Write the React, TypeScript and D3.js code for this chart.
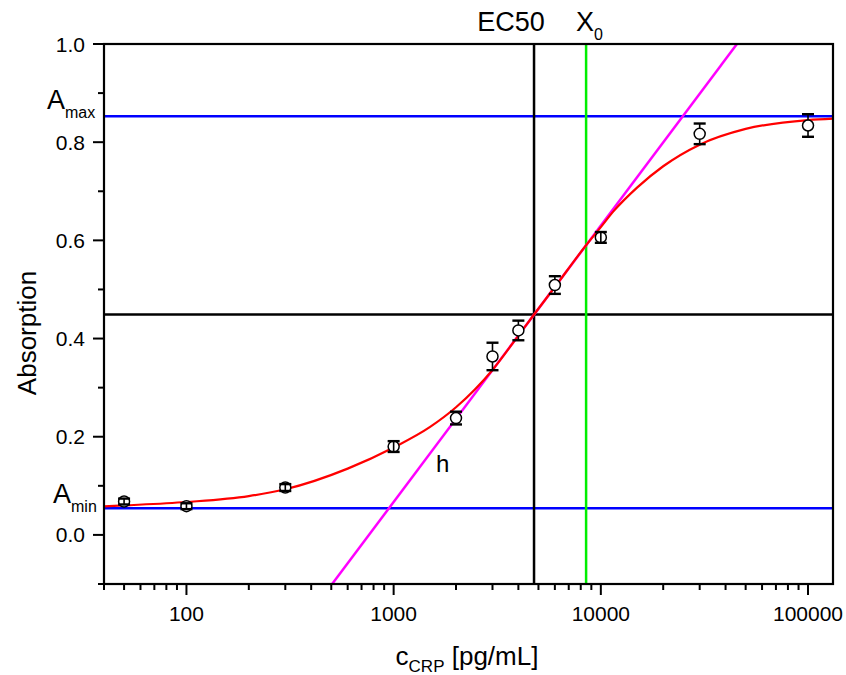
import React, { useEffect, useRef } from 'react';
import * as d3 from 'd3';

// measured points (concentration in pg/mL, absorption, error)
const conc = [50, 100, 300, 1000, 2000, 3000, 4000, 6000, 10000, 30000, 100000];
const absorb = [0.068, 0.0585, 0.0965, 0.180, 0.238, 0.3635, 0.4165, 0.509, 0.606, 0.817, 0.834];
const errs = [0.006, 0.006, 0.007, 0.011, 0.013, 0.028, 0.02, 0.018, 0.011, 0.021, 0.023];

// fitted curve
const fitX = [40, 50, 100, 200, 300, 600, 1000, 1500, 2000, 3000, 4000, 4760, 6000, 8490, 10000, 11500, 15000, 20000, 30000, 50000, 100000, 132000];
const fitY = [0.058, 0.060, 0.067, 0.079, 0.093, 0.135, 0.178, 0.220, 0.260, 0.336, 0.406, 0.449, 0.505, 0.590, 0.627, 0.659, 0.708, 0.751, 0.795, 0.827, 0.845, 0.848];

// reference lines
const aMax = 0.853;
const aMin = 0.0545;
const midY = 0.449;
const ec50 = 4760;
const x0 = 8490;
const slopeX = [505, 45400];
const slopeY = [-0.1, 1.0];

const xMajor = [100, 1000, 10000, 100000];
const yMajor = [0.0, 0.2, 0.4, 0.6, 0.8, 1.0];
const yMinor = [-0.1, 0.1, 0.3, 0.5, 0.7, 0.9];

const FONT = '"Liberation Sans", Arial, sans-serif';

export default function App() {
  const ref = useRef<SVGSVGElement>(null);

  useEffect(() => {
    const width = 846, height = 675;
    const margin = { top: 44, right: 13, bottom: 91, left: 104 };
    const svg = d3.select(ref.current);
    svg.selectAll('*').remove();

    const x = d3.scaleLog().domain([40, 132000]).range([margin.left, width - margin.right]);
    const y = d3.scaleLinear().domain([-0.1, 1.0]).range([height - margin.bottom, margin.top]);
    const [x1, x2] = x.range();
    const [y1, y2] = y.range();

    svg.append('defs').append('clipPath').attr('id', 'plotclip')
      .append('rect').attr('x', x1).attr('y', y2).attr('width', x2 - x1).attr('height', y1 - y2);

    const plot = svg.append('g').attr('clip-path', 'url(#plotclip)');

    // horizontal + vertical guides
    const hline = (v: number, col: string) => plot.append('line')
      .attr('x1', x1).attr('x2', x2).attr('y1', y(v)).attr('y2', y(v))
      .attr('stroke', col).attr('stroke-width', 2.5);
    const vline = (v: number, col: string) => plot.append('line')
      .attr('x1', x(v)).attr('x2', x(v)).attr('y1', y1).attr('y2', y2)
      .attr('stroke', col).attr('stroke-width', 2.5);
    hline(aMax, '#0000ff');
    hline(aMin, '#0000ff');
    hline(midY, '#000');
    vline(ec50, '#000');
    vline(x0, '#00ee00');

    // slope line
    plot.append('path')
      .datum(slopeX.map((d, i) => [d, slopeY[i]]))
      .attr('fill', 'none').attr('stroke', '#ff00ff').attr('stroke-width', 2.5)
      .attr('d', d3.line<number[]>().x(d => x(d[0])).y(d => y(d[1])));

    // fit curve
    plot.append('path')
      .datum(fitX.map((d, i) => [d, fitY[i]]))
      .attr('fill', 'none').attr('stroke', '#ff0000').attr('stroke-width', 2.2)
      .attr('d', d3.line<number[]>().x(d => x(d[0])).y(d => y(d[1])).curve(d3.curveMonotoneX));

    // points with error bars
    const r = 5.5;
    conc.forEach((c, i) => {
      const cx = x(c), cy = y(absorb[i]);
      const top = y(absorb[i] + errs[i]), bot = y(absorb[i] - errs[i]);
      const g = svg.append('g');
      g.append('circle').attr('cx', cx).attr('cy', cy).attr('r', r)
        .attr('fill', '#fff').attr('stroke', '#000').attr('stroke-width', 1.5);
      if (cy - top > r) {
        g.append('line').attr('x1', cx).attr('x2', cx).attr('y1', top).attr('y2', cy - r)
          .attr('stroke', '#000').attr('stroke-width', 1.6);
        g.append('line').attr('x1', cx).attr('x2', cx).attr('y1', cy + r).attr('y2', bot)
          .attr('stroke', '#000').attr('stroke-width', 1.6);
      } else {
        g.append('line').attr('x1', cx).attr('x2', cx).attr('y1', top).attr('y2', bot)
          .attr('stroke', '#000').attr('stroke-width', 1.6);
      }
      [top, bot].forEach(yy => g.append('line')
        .attr('x1', cx - 6).attr('x2', cx + 6).attr('y1', yy).attr('y2', yy)
        .attr('stroke', '#000').attr('stroke-width', 2.4));
    });

    // frame
    svg.append('rect').attr('x', x1).attr('y', y2).attr('width', x2 - x1).attr('height', y1 - y2)
      .attr('fill', 'none').attr('stroke', '#000').attr('stroke-width', 2.2);

    // x axis
    const xMinor = x.ticks().filter(t => !xMajor.includes(t) && t >= 40);
    const xAxis = svg.append('g');
    xMinor.forEach(t => xAxis.append('line').attr('x1', x(t)).attr('x2', x(t))
      .attr('y1', y1).attr('y2', y1 + 6).attr('stroke', '#000').attr('stroke-width', 2));
    xMajor.forEach(t => {
      xAxis.append('line').attr('x1', x(t)).attr('x2', x(t))
        .attr('y1', y1).attr('y2', y1 + 11).attr('stroke', '#000').attr('stroke-width', 2);
      xAxis.append('text').attr('x', x(t)).attr('y', y1 + 37).attr('text-anchor', 'middle')
        .attr('font-family', FONT).attr('font-size', 21).text(String(t));
    });

    // y axis
    const yAxis = svg.append('g');
    yMinor.forEach(t => yAxis.append('line').attr('x1', x1 - 6).attr('x2', x1)
      .attr('y1', y(t)).attr('y2', y(t)).attr('stroke', '#000').attr('stroke-width', 2));
    yMajor.forEach(t => {
      yAxis.append('line').attr('x1', x1 - 11).attr('x2', x1)
        .attr('y1', y(t)).attr('y2', y(t)).attr('stroke', '#000').attr('stroke-width', 2);
      yAxis.append('text').attr('x', 85).attr('y', y(t) + 7.5).attr('text-anchor', 'end')
        .attr('font-family', FONT).attr('font-size', 21).text(d3.format('.1f')(t));
    });

    // axis titles
    svg.append('text').attr('transform', `translate(36,333) rotate(-90)`)
      .attr('text-anchor', 'middle').attr('font-family', FONT).attr('font-size', 26)
      .text('Absorption');
    const xt = svg.append('text').attr('x', 467).attr('y', 665).attr('text-anchor', 'middle')
      .attr('font-family', FONT).attr('font-size', 26);
    xt.append('tspan').text('c');
    xt.append('tspan').attr('font-size', 17).attr('dy', 7).text('CRP');
    xt.append('tspan').attr('dy', -7).text(' [pg/mL]');

    // annotations
    const lab = (tx: number, ty: number, main: string, sub: string, subSize: number, dy: number, anchor = 'start') => {
      const t = svg.append('text').attr('x', tx).attr('y', ty).attr('text-anchor', anchor)
        .attr('font-family', FONT).attr('font-size', 27);
      t.append('tspan').text(main);
      if (sub) t.append('tspan').attr('font-size', subSize).attr('dy', dy).text(sub);
    };
    lab(x(ec50) - 23, 31, 'EC50', '', 0, 0, 'middle');
    lab(576, 31, 'X', '0', 16, 9);
    lab(47, 109, 'A', 'max', 16, 9);
    lab(53, 503, 'A', 'min', 16, 9);
    svg.append('text').attr('x', 436).attr('y', 472).attr('font-family', FONT)
      .attr('font-size', 24).text('h');
  }, []);

  return (
    <svg ref={ref} width={846} height={675}
      style={{ position: 'absolute', left: 0, top: 0, background: '#fff' }} />
  );
}
